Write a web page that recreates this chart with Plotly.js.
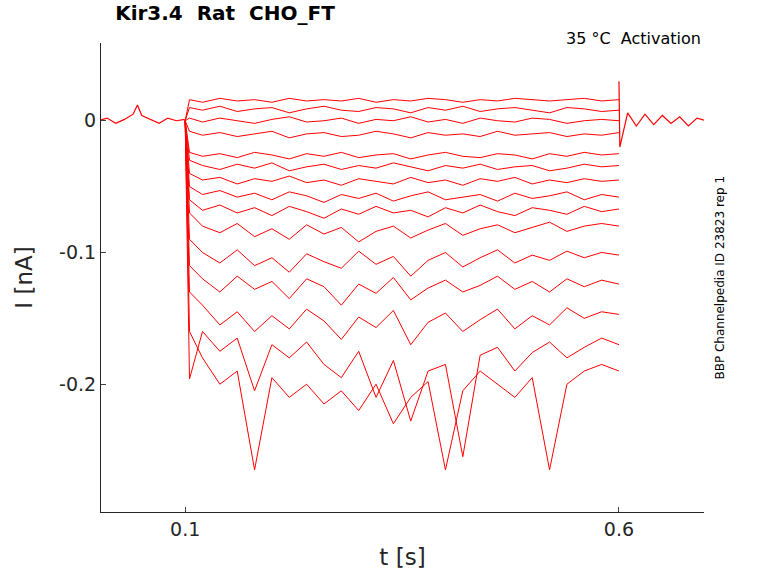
<html><head><script src="https://cdn.plot.ly/plotly-3.0.1.min.js"></script></head><body style="margin:0">
<div id="c" style="width:778px;height:583px"></div>
<script>
const tBase=[0,0.01,0.02,0.03,0.04,0.045,0.05,0.06,0.07,0.08,0.09,0.0995];
const iBase=[0.0,0.002,-0.002,0.001,0.005,0.012,0.004,0.001,-0.002,0.002,0.0,0.001];
const tTail=[0.6,0.601,0.61,0.62,0.63,0.64,0.65,0.66,0.67,0.68,0.69,0.7];
const iTail=[0.03,-0.02,0.006,-0.004,0.005,-0.003,0.004,-0.002,0.003,-0.004,0.002,0.0];
const tStep=[0.1,0.105,0.12,0.14,0.16,0.18,0.2,0.22,0.24,0.26,0.28,0.3,0.32,0.34,0.36,0.38,0.4,0.42,0.44,0.46,0.48,0.5,0.52,0.54,0.56,0.58,0.6];
const traces=[
[0,0.016,0.014,0.017,0.015,0.016,0.014,0.017,0.015,0.016,0.015,0.017,0.014,0.016,0.015,0.017,0.016,0.014,0.016,0.015,0.017,0.016,0.015,0.016,0.017,0.015,0.016],
[0,0.01,0.008,0.011,0.007,0.009,0.01,0.006,0.009,0.011,0.008,0.007,0.01,0.009,0.006,0.01,0.008,0.011,0.007,0.009,0.01,0.008,0.006,0.01,0.009,0.007,0.008],
[0,0.002,-0.001,0.002,0.0,-0.002,0.001,0.003,-0.001,0.0,0.002,-0.002,0.001,0.0,0.003,-0.001,0.001,-0.002,0.002,0.0,-0.001,0.002,0.001,-0.002,0.0,0.001,0.0],
[0,-0.008,-0.011,-0.009,-0.012,-0.01,-0.008,-0.013,-0.01,-0.009,-0.012,-0.011,-0.008,-0.01,-0.013,-0.009,-0.011,-0.01,-0.012,-0.008,-0.011,-0.01,-0.009,-0.012,-0.01,-0.011,-0.009],
[0,-0.024,-0.027,-0.025,-0.028,-0.024,-0.026,-0.029,-0.025,-0.027,-0.024,-0.028,-0.026,-0.025,-0.029,-0.026,-0.024,-0.027,-0.028,-0.025,-0.026,-0.029,-0.025,-0.027,-0.024,-0.026,-0.025],
[0,-0.03,-0.034,-0.037,-0.033,-0.036,-0.032,-0.038,-0.035,-0.033,-0.037,-0.034,-0.036,-0.032,-0.035,-0.038,-0.034,-0.036,-0.033,-0.037,-0.035,-0.034,-0.038,-0.036,-0.033,-0.035,-0.034],
[0,-0.04,-0.045,-0.043,-0.048,-0.044,-0.046,-0.042,-0.047,-0.045,-0.049,-0.044,-0.046,-0.048,-0.043,-0.047,-0.045,-0.049,-0.044,-0.046,-0.043,-0.048,-0.045,-0.047,-0.044,-0.046,-0.045],
[0,-0.05,-0.056,-0.053,-0.058,-0.055,-0.06,-0.054,-0.057,-0.062,-0.056,-0.059,-0.055,-0.061,-0.057,-0.054,-0.06,-0.058,-0.056,-0.061,-0.055,-0.059,-0.057,-0.054,-0.06,-0.056,-0.058],
[0,-0.06,-0.068,-0.064,-0.07,-0.066,-0.072,-0.065,-0.069,-0.074,-0.067,-0.071,-0.065,-0.07,-0.068,-0.073,-0.066,-0.07,-0.064,-0.069,-0.072,-0.066,-0.068,-0.071,-0.065,-0.069,-0.067],
[0,-0.07,-0.08,-0.085,-0.078,-0.088,-0.082,-0.09,-0.079,-0.086,-0.081,-0.092,-0.084,-0.08,-0.089,-0.083,-0.078,-0.087,-0.082,-0.079,-0.085,-0.081,-0.077,-0.084,-0.08,-0.078,-0.08],
[0,-0.09,-0.1,-0.108,-0.098,-0.11,-0.104,-0.115,-0.101,-0.107,-0.112,-0.099,-0.109,-0.103,-0.118,-0.106,-0.1,-0.111,-0.104,-0.098,-0.108,-0.102,-0.106,-0.099,-0.104,-0.1,-0.102],
[0,-0.11,-0.12,-0.13,-0.118,-0.128,-0.122,-0.135,-0.12,-0.126,-0.14,-0.124,-0.131,-0.119,-0.136,-0.127,-0.121,-0.13,-0.125,-0.118,-0.128,-0.122,-0.13,-0.12,-0.126,-0.121,-0.124],
[0,-0.13,-0.14,-0.155,-0.145,-0.16,-0.148,-0.158,-0.143,-0.152,-0.166,-0.149,-0.157,-0.144,-0.17,-0.153,-0.146,-0.16,-0.151,-0.143,-0.158,-0.148,-0.155,-0.142,-0.15,-0.145,-0.147],
[0,-0.196,-0.16,-0.175,-0.165,-0.205,-0.17,-0.18,-0.168,-0.185,-0.195,-0.175,-0.21,-0.182,-0.228,-0.19,-0.185,-0.255,-0.178,-0.172,-0.19,-0.176,-0.168,-0.18,-0.172,-0.165,-0.17],
[0,-0.16,-0.18,-0.2,-0.19,-0.265,-0.195,-0.21,-0.2,-0.215,-0.205,-0.22,-0.2,-0.23,-0.21,-0.198,-0.265,-0.205,-0.19,-0.2,-0.21,-0.195,-0.265,-0.2,-0.19,-0.185,-0.19]
];
const data=[{x:tBase,y:iBase,mode:'lines',line:{color:'#ff0000',width:1.2},hoverinfo:'none'},
{x:tTail,y:iTail,mode:'lines',line:{color:'#ff0000',width:1.2},hoverinfo:'none'}];
traces.forEach(v=>data.push({x:tStep,y:v,mode:'lines',line:{color:'#ff0000',width:1},hoverinfo:'none'}));
const f='DejaVu Sans';
Plotly.newPlot('c',data,{width:778,height:583,showlegend:false,
margin:{l:101,r:74,t:43,b:71},paper_bgcolor:'#fff',plot_bgcolor:'#fff',
title:{text:'<b>Kir3.4  Rat  CHO_FT</b>',x:0.148,xanchor:'left',y:0.99,yanchor:'top',font:{family:f,size:20,color:'#000'}},
xaxis:{range:[0.003,0.698],tickvals:[0.1,0.6],ticktext:['0.1','0.6'],ticks:'inside',ticklen:5,showline:true,linecolor:'#262626',showgrid:false,zeroline:false,
 tickfont:{family:f,size:19,color:'#262626'},title:{text:'t [s]',font:{family:f,size:23,color:'#262626'},standoff:10}},
yaxis:{range:[-0.297,0.059],tickvals:[0,-0.1,-0.2],ticktext:['0','-0.1','-0.2'],ticks:'inside',ticklen:5,showline:true,linecolor:'#262626',showgrid:false,zeroline:false,
 tickfont:{family:f,size:19,color:'#262626'},title:{text:'I [nA]',font:{family:f,size:23,color:'#262626'},standoff:20}},
annotations:[{text:'35 °C  Activation',xref:'paper',yref:'paper',x:0.998,y:1.035,xanchor:'right',yanchor:'top',showarrow:false,font:{family:f,size:16,color:'#000'}},
{text:'BBP Channelpedia ID 23823 rep 1',xref:'paper',yref:'paper',x:1.025,y:0.5,xanchor:'center',yanchor:'middle',textangle:-90,showarrow:false,font:{family:f,size:12,color:'#000'}}]
},{staticPlot:true});
</script></body></html>
